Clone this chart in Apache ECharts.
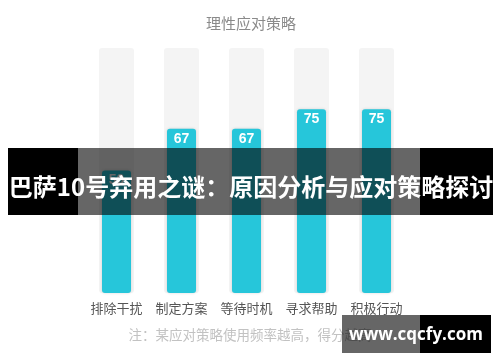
<!DOCTYPE html>
<html><head><meta charset="utf-8">
<script src="https://cdn.jsdelivr.net/npm/echarts@6/dist/echarts.min.js"></script>
<style>html,body{margin:0;padding:0;background:#fff}#c{width:500px;height:362px}</style>
</head><body><div id="c"></div>
<script>
const titleText = '理性应对策略';
const categories = ['排除干扰', '制定方案', '等待时机', '寻求帮助', '积极行动'];
const scores = [50, 67, 67, 75, 75];
const maxScores = [100, 100, 100, 100, 100];
const noteText = '注：某应对策略使用频率越高，得分越高';
const bannerText = '巴萨10号弃用之谜：原因分析与应对策略探讨';
const watermarkText = 'www.cqcfy.com';

const font = '"Noto Sans CJK SC", "Noto Sans", sans-serif';
const chart = echarts.init(document.getElementById('c'), null, {renderer: 'canvas'});
chart.setOption({
  animation: false,
  title: {text: titleText, left: 246, top: 11, textAlign: 'center',
    textStyle: {color: '#8a8a8a', fontSize: 15, fontWeight: 'normal', fontFamily: font}},
  grid: {left: 84, right: 91, top: 48, bottom: 69},
  xAxis: [
    {type: 'category', data: categories, axisLine: {show: false}, axisTick: {show: false},
     axisLabel: {color: '#555', fontSize: 13, margin: 9, interval: 0, fontFamily: font}},
    {type: 'category', data: categories, show: false}
  ],
  yAxis: {type: 'value', min: 0, max: 100, show: false},
  series: [
    {type: 'bar', xAxisIndex: 1, data: maxScores, barWidth: 35, silent: true,
     itemStyle: {color: '#f4f4f4', borderRadius: 3}},
    {type: 'bar', xAxisIndex: 0, data: scores, barWidth: 29,
     itemStyle: {color: '#26c6da', borderRadius: 3, shadowBlur: 3, shadowColor: 'rgba(0,0,0,0.15)'},
     label: {show: true, position: 'insideTop', distance: 3, color: '#fff', fontSize: 14,
       fontFamily: '"Liberation Sans", Arial, sans-serif', fontWeight: 'bold'}}
  ],
  graphic: [
    {type: 'text', left: 'center', top: 328, z: 100, style: {text: noteText, fill: '#c2c2c2', fontSize: 13.5, fontFamily: font}},
    {type: 'rect', z: 100, shape: {x: 8, y: 148, width: 70, height: 67}, style: {fill: '#000'}},
    {type: 'rect', z: 100, shape: {x: 78, y: 148, width: 342, height: 67}, style: {fill: 'rgba(0,0,0,0.6)'}},
    {type: 'rect', z: 100, shape: {x: 420, y: 148, width: 73, height: 67}, style: {fill: '#000'}},
    {type: 'text', z: 101, x: 251, y: 187, style: {text: bannerText, fill: '#fff', fontSize: 24, fontWeight: 'bold',
      fontFamily: font, align: 'center', verticalAlign: 'middle'}},
    {type: 'rect', z: 100, shape: {x: 342, y: 315, width: 78, height: 38}, style: {fill: 'rgba(0,0,0,0.6)'}},
    {type: 'rect', z: 100, shape: {x: 420, y: 315, width: 71, height: 38}, style: {fill: '#000'}},
    {type: 'text', z: 101, x: 416, y: 335, style: {text: watermarkText, fill: '#fff', fontSize: 17, fontWeight: 'bold',
      fontFamily: '"Open Sans", "Noto Sans", sans-serif', align: 'center', verticalAlign: 'middle'}}
  ]
});
</script></body></html>
